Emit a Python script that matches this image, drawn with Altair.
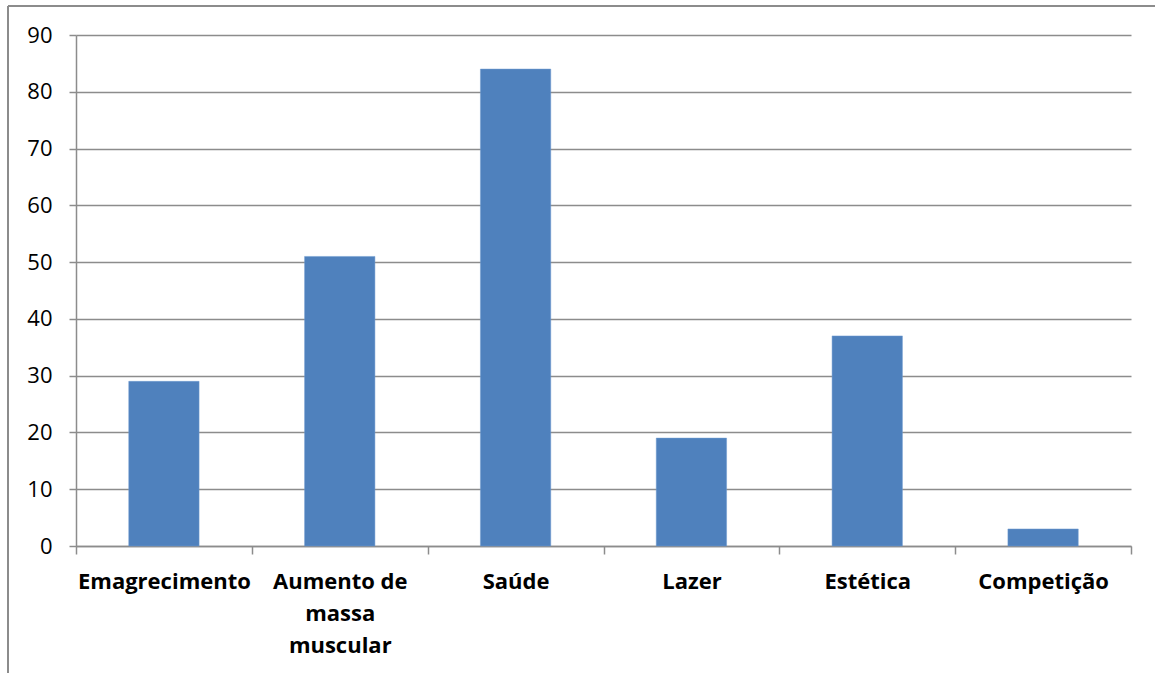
import altair as alt
import pandas as pd

categories = ["Emagrecimento", "Aumento de massa muscular", "Saúde", "Lazer", "Estética", "Competição"]
values = [29, 51, 84, 19, 37, 3]
y_ticks = [0, 10, 20, 30, 40, 50, 60, 70, 80, 90]

df = pd.DataFrame({"cat": categories, "val": values})

FONT = "Open Sans"
GRAY = "#8c8c8c"

bars = alt.Chart(df).mark_bar(color="#4F81BD", stroke="#6f9bd0", strokeWidth=0.5,
                              width=alt.RelativeBandSize(0.4)).encode(
    x=alt.X("cat:N", sort=categories, title=None,
            scale=alt.Scale(paddingInner=0, paddingOuter=0),
            axis=alt.Axis(labelAngle=0, labelFont=FONT, labelFontSize=22, labelFontWeight="bold",
                          labelColor="#000000", labelPadding=17, labelLineHeight=32,
                          labelExpr="datum.label == 'Aumento de massa muscular' ? ['Aumento de', 'massa', 'muscular'] : datum.label",
                          domainColor=GRAY, domainWidth=1.5, tickColor=GRAY, tickWidth=1.5, tickSize=8,
                          tickBand="extent", grid=False, labelBaseline="top")),
    y=alt.Y("val:Q", title=None,
            scale=alt.Scale(domain=[0, 90], nice=False),
            axis=alt.Axis(values=y_ticks, labelFont=FONT, labelFontSize=22, labelColor="#000000",
                          labelPadding=17, domainColor=GRAY, domainWidth=1.5, tickColor=GRAY,
                          tickWidth=1.5, tickSize=7, gridColor=GRAY, gridWidth=1.5, grid=True)),
)

frame_data = alt.Data(values=[{"k": 1}])
frame_v = alt.Chart(frame_data).mark_rule(color=GRAY, strokeWidth=2).encode(
    x=alt.value(-68), y=alt.value(-29), y2=alt.value(680))
frame_h = alt.Chart(frame_data).mark_rule(color=GRAY, strokeWidth=2).encode(
    x=alt.value(-68), x2=alt.value(1100), y=alt.value(-29))

chart = alt.layer(bars, frame_v, frame_h).properties(
    width=1055, height=511,
    autosize=alt.AutoSizeParams(type="none"),
    padding={"left": 76, "top": 35, "right": 24, "bottom": 127},
    background="white",
).configure_view(stroke=None)

chart.save("out.html", embed_options={"renderer": "svg", "actions": False})
